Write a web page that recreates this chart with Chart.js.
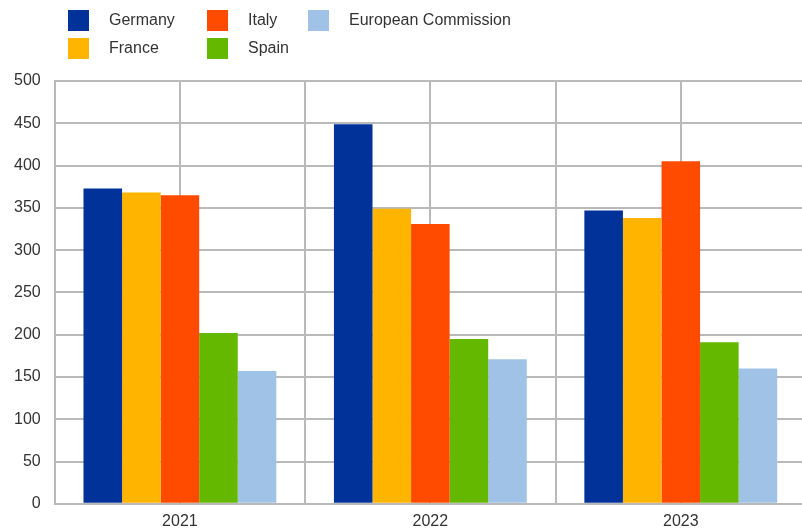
<!DOCTYPE html>
<html>
<head>
<meta charset="utf-8">
<script src="https://cdn.jsdelivr.net/npm/chart.js@4"></script>
<style>
  html, body { margin: 0; padding: 0; background: #fff; overflow: hidden; }
  #wrap { position: relative; width: 806px; height: 531px; }
  #legend {
    position: absolute; left: 68px; top: 6px;
    display: grid; grid-template-rows: 28px 28px; grid-auto-flow: column;
    grid-auto-columns: max-content; column-gap: 0;
    font-family: "Liberation Sans", Arial, sans-serif; font-size: 16px; color: #333;
  }
  #legend .item { display: flex; align-items: center; }
  #legend .box { width: 21px; height: 21px; margin-right: 20px; }
  #legend .col0 { width: 139px; }
  #legend .col1 { width: 101px; }
</style>
</head>
<body>
<div id="wrap">
  <canvas id="barChart"></canvas>
  <div id="legend"></div>
</div>
<script>
// Years on the x axis
const years = ['2021', '2022', '2023'];

// Values per country / institution
const germany = [373, 449, 347];
const france = [368, 349, 338];
const italy = [365, 331, 405];
const spain = [202, 195, 191];
const europeanCommission = [157, 171, 160];

// Y axis ticks
const yMin = 0;
const yMax = 500;
const yStep = 50;

const gridColor = '#b9b9b9';
const textColor = '#333333';
const fontFamily = '"Liberation Sans", Arial, sans-serif';

function createBarChart() {
    const ctx = document.getElementById('barChart').getContext('2d');
    const series = [
        { label: 'Germany', data: germany, color: '#003299' },
        { label: 'France', data: france, color: '#ffb400' },
        { label: 'Italy', data: italy, color: '#ff4b00' },
        { label: 'Spain', data: spain, color: '#65b800' },
        { label: 'European Commission', data: europeanCommission, color: '#9fc2e6' }
    ];

    const chart = new Chart(ctx, {
        type: 'bar',
        data: {
            labels: years,
            datasets: series.map(s => ({
                label: s.label,
                data: s.data,
                backgroundColor: s.color,
                borderWidth: 0,
                categoryPercentage: 0.77,
                barPercentage: 1.0,
                xAxisID: 'x'
            }))
        },
        options: {
            responsive: true,
            maintainAspectRatio: false,
            animation: false,
            layout: { padding: { top: 81, left: 0, right: 0, bottom: -8 } },
            plugins: {
                legend: { display: false },
                tooltip: { enabled: false }
            },
            scales: {
                x: {
                    type: 'category',
                    position: 'bottom',
                    offset: true,
                    grid: { offset: true, color: gridColor, lineWidth: 2, drawTicks: false },
                    border: { color: gridColor, width: 2 },
                    ticks: { color: textColor, font: { family: fontFamily, size: 16 }, padding: 8 }
                },
                // grid lines through the middle of each year
                x2: {
                    type: 'category',
                    labels: years,
                    position: 'top',
                    offset: true,
                    grid: { offset: false, color: gridColor, lineWidth: 2, drawTicks: false },
                    border: { display: false },
                    ticks: { display: false }
                },
                y: {
                    min: yMin,
                    max: yMax,
                    ticks: { stepSize: yStep, color: textColor, font: { family: fontFamily, size: 16 }, padding: 14 },
                    grid: { color: gridColor, lineWidth: 2, drawTicks: false },
                    border: { color: gridColor, width: 2 }
                }
            }
        }
    });

    // HTML legend: two rows, filled column by column
    const legend = document.getElementById('legend');
    chart.data.datasets.forEach((ds, i) => {
        const item = document.createElement('div');
        item.className = 'item col' + Math.floor(i / 2);
        const box = document.createElement('span');
        box.className = 'box';
        box.style.background = ds.backgroundColor;
        const text = document.createElement('span');
        text.textContent = ds.label;
        item.appendChild(box);
        item.appendChild(text);
        legend.appendChild(item);
    });
}

window.addEventListener('load', createBarChart);
</script>
</body>
</html>
